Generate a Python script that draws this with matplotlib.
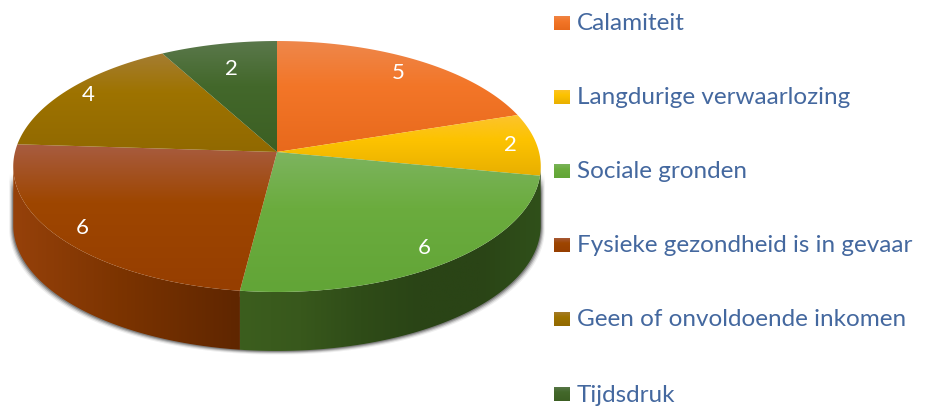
import numpy as np
import matplotlib
matplotlib.use("Agg")
import matplotlib.pyplot as plt
from matplotlib.colors import LinearSegmentedColormap
from matplotlib.patches import Polygon

# data
categories = ["Calamiteit", "Langdurige verwaarlozing", "Sociale gronden",
              "Fysieke gezondheid is in gevaar", "Geen of onvoldoende inkomen", "Tijdsdruk"]
values = [5, 2, 6, 6, 4, 2]

# top gradient per slice: light, base, dark
top_colors = [
    ["#EE874B", "#F37628", "#E8691C"],
    ["#FCC32D", "#FDC300", "#E8AF00"],
    ["#7DB45F", "#6BAC3E", "#62A537"],
    ["#A85C40", "#9E4600", "#963E00"],
    ["#A57D32", "#9E7300", "#916900"],
    ["#5A784B", "#43682B", "#3C5F23"],
]
# side wall gradient per slice, left to right
wall_colors = [
    ["#8A4A14", "#8A4A14"],
    ["#2A4416", "#2A4416"],
    ["#3C5E1E", "#38581C", "#2F4C18", "#2A4416", "#2A4416", "#30501A"],
    ["#96410A", "#7A3300", "#5F2600"],
    ["#6E5200", "#6E5200"],
    ["#2A4416", "#2A4416"],
]
legend_y = [23, 97, 171, 245, 319, 394]
label_radius = [0.85, 0.9, 0.88, 0.9, 0.9, 0.75]

# pie geometry, in pixels
cx, cy = 277, 152
rx, ry = 262, 123.8
persp = 0.1155
depth = 59


def project(theta, r=1.0, drop=0.0):
    # theta clockwise from 12 o'clock, far side is drawn smaller
    u = r * np.sin(theta)
    v = r * np.cos(theta)
    w = 1 + persp * v
    return cx + rx * u / w, cy - ry * v / w + drop


def gradient(ax, colors, extent, clip, horizontal=False, zorder=2):
    cmap = LinearSegmentedColormap.from_list("g", colors)
    ramp = np.linspace(0, 1, 256)
    # the light band at the top of a slice is shorter than the rest
    if not horizontal and len(colors) == 3:
        ramp = np.interp(ramp, [0, 0.4, 1], [0, 0.5, 1])
    ramp = ramp.reshape(1, -1) if horizontal else ramp.reshape(-1, 1)
    im = ax.imshow(ramp, cmap=cmap, extent=extent, aspect="auto", origin="upper",
                   vmin=0, vmax=1, zorder=zorder)
    im.set_clip_path(clip)


fig = plt.figure(figsize=(9.25, 4.07), dpi=100, facecolor="white")
ax = fig.add_axes([0, 0, 1, 1])

edges = np.concatenate([[0], np.cumsum(values)]) / np.sum(values) * 2 * np.pi
wall_from = np.arccos(-persp)
wall_to = 2 * np.pi - wall_from

# soft shadow under the wall
ts = np.linspace(wall_from, wall_to, 200)
sx, sy = project(ts, drop=depth)
tx, ty = project(ts)
for grow, alpha in zip([4, 3, 2, 1], [0.08, 0.15, 0.25, 0.35]):
    shadow = np.concatenate([np.column_stack([tx + np.sign(tx - cx) * grow, ty + 6]),
                             np.column_stack([sx + np.sign(sx - cx) * grow, sy + grow * 0.9])[::-1]])
    ax.add_patch(Polygon(shadow, closed=True, fc="#333333", ec="none", alpha=alpha, zorder=1))

# side walls
for i in range(len(values)):
    t0, t1 = max(edges[i], wall_from), min(edges[i + 1], wall_to)
    if t1 <= t0:
        continue
    ts = np.linspace(t0, t1, 100)
    xa, ya = project(ts)
    xb, yb = project(ts, drop=depth)
    poly = np.concatenate([np.column_stack([xa, ya]), np.column_stack([xb, yb])[::-1]])
    clip = Polygon(poly, closed=True, transform=ax.transData)
    gradient(ax, wall_colors[i], [poly[:, 0].min(), poly[:, 0].max(), poly[:, 1].max(), poly[:, 1].min()],
             clip, horizontal=True)

# top of the pie
for i in range(len(values)):
    ts = np.linspace(edges[i], edges[i + 1], 120)
    xa, ya = project(ts)
    poly = np.vstack([[cx, cy], np.column_stack([xa, ya])])
    clip = Polygon(poly, closed=True, transform=ax.transData)
    gradient(ax, top_colors[i], [poly[:, 0].min(), poly[:, 0].max(), poly[:, 1].max(), poly[:, 1].min()],
             clip, zorder=3)
    mid = (edges[i] + edges[i + 1]) / 2
    lx, ly = project(mid, r=label_radius[i])
    ax.text(lx, ly, str(values[i]), color="white", fontsize=16, family="Lato",
            ha="center", va="center", zorder=5)

# legend
for i, name in enumerate(categories):
    y = legend_y[i]
    clip = Polygon([[554, y - 7.5], [570, y - 7.5], [570, y + 7.5], [554, y + 7.5]],
                   closed=True, transform=ax.transData)
    gradient(ax, top_colors[i], [554, 570, y + 7.5, y - 7.5], clip, zorder=3)
    ax.text(577, y + 1, name, color="#44689F", fontsize=17.5, family="Lato",
            ha="left", va="center", zorder=5)

ax.set_xlim(0, 925)
ax.set_ylim(407, 0)
ax.axis("off")
fig.savefig("out.png", dpi=100)
